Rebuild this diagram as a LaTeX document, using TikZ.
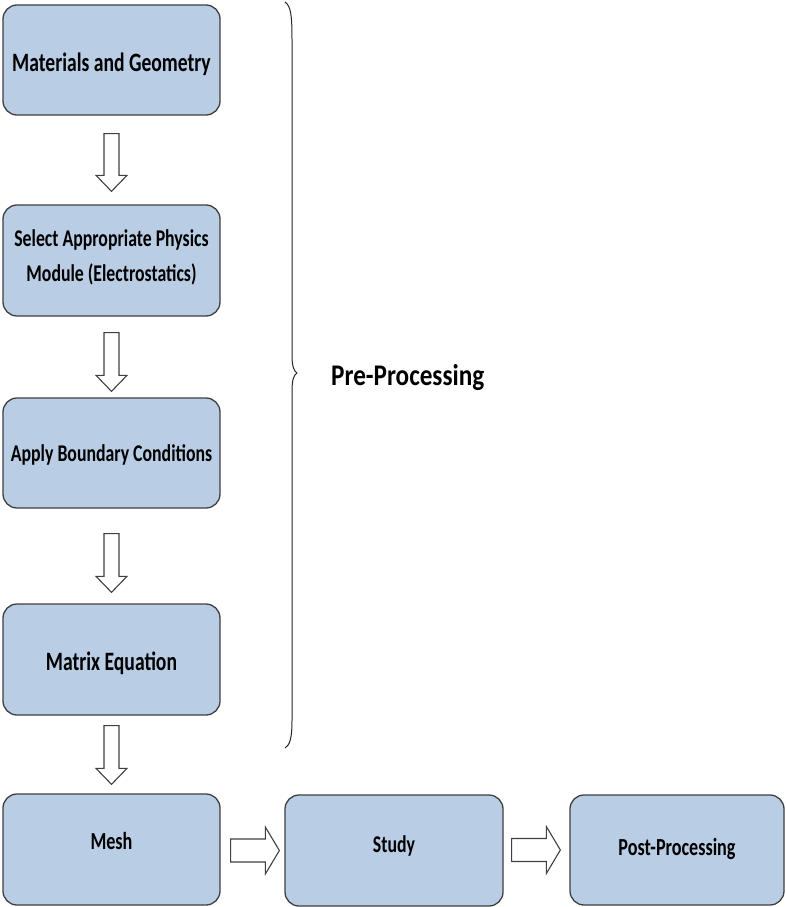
\documentclass[tikz,border=0pt]{standalone}
\usepackage{fontspec}
\setmainfont{Carlito}
\newfontfamily\boxfont[FakeStretch=0.74]{Carlito}
\newfontfamily\prefont[FakeStretch=0.84]{Carlito}
\usetikzlibrary{calc}
\definecolor{boxblue}{HTML}{B9CDE5}
\definecolor{boxline}{HTML}{3F3F3F}
\definecolor{arrline}{HTML}{404040}
\newcommand\vblock[2]{\draw[blockarrow] let \p1=#1, \p2=#2 in
  (\x2-7.5pt,\y1) -- (\x2+7.5pt,\y1) -- (\x2+7.5pt,\y2+16pt) -- (\x2+15.5pt,\y2+16pt)
  -- (\x2,\y2) -- (\x2-15.5pt,\y2+16pt) -- (\x2-7.5pt,\y2+16pt) -- cycle;}
\newcommand\hblock[2]{\draw[blockarrow] let \p1=#1, \p2=#2 in
  (\x1,\y2+11.5pt) -- (\x2-14pt,\y2+11.5pt) -- (\x2-14pt,\y2+23.5pt) -- (\x2,\y2)
  -- (\x2-14pt,\y2-23.5pt) -- (\x2-14pt,\y2-11.5pt) -- (\x1,\y2-11.5pt) -- cycle;}
\newcommand\rs[2]{\raisebox{#1}[0pt][0pt]{#2}}
\begin{document}
\begin{tikzpicture}[x=1pt,y=1pt,
  stepbox/.style={draw=boxline, line width=1.3pt, fill=boxblue, rounded corners=14pt,
    minimum width=217pt, minimum height=110pt, inner sep=0pt, align=center,
    font=\boxfont\bfseries\fontsize{26.5}{36}\selectfont},
  small/.style={font=\boxfont\bfseries\fontsize{24}{35}\selectfont},
  mid/.style={font=\boxfont\bfseries\fontsize{24.5}{36}\selectfont},
  blockarrow/.style={draw=arrline, line width=1.1pt, fill=white, line join=miter},
  bracestyle/.style={draw=black!85, line width=1pt}]
\useasboundingbox (0,0) rectangle (785,-907);
\node[stepbox] (mat) at (111.5,-60) {\rs{-11.5pt}{Materials and Geometry}};
\node[stepbox, small, minimum height=111pt] (sel) at (111.5,-260.5) {\rs{-3pt}{\begin{tabular}{@{}c@{}}Select Appropriate Physics\\Module (Electrostatics)\end{tabular}}};
\node[stepbox, small] (bc) at (111.5,-453) {\rs{-8pt}{Apply Boundary Conditions}};
\node[stepbox, minimum height=111pt] (mx) at (111.5,-659.5) {\rs{-11.3pt}{Matrix Equation}};
\node[stepbox, mid, minimum height=111pt] (mesh) at (111.5,-849.5) {\rs{0.5pt}{Mesh}};
\node[stepbox, small, minimum width=218pt, minimum height=111pt] (study) at (394,-850.5) {\rs{-1.5pt}{Study}};
\node[stepbox, mid, minimum width=214pt] (post) at (677,-850) {\rs{-5.5pt}{Post-Processing}};
\vblock{($(mat.south)+(0,-18)$)}{($(sel.north)+(0,13)$)}
\vblock{($(sel.south)+(0,-16)$)}{($(bc.north)+(0,6)$)}
\vblock{($(bc.south)+(0,-25)$)}{($(mx.north)+(0,11)$)}
\vblock{($(mx.south)+(0,-10)$)}{($(mesh.north)+(0,9)$)}
\hblock{($(mesh.east)+(10,0)$)}{($(study.west)+(-5,0)$)}
\hblock{($(study.east)+(8,0)$)}{($(post.west)+(-9,0)$)}
\draw[bracestyle] (285,-2) .. controls (291,-6) and (292,-16) .. (292,-40) -- (292,-355)
  .. controls (292,-367) and (294,-371) .. (297,-373)
  .. controls (294,-375) and (292,-379) .. (292,-391) -- (292,-720)
  .. controls (292,-738) and (290,-745) .. (285,-748);
\node[anchor=base west, inner sep=0pt, font=\prefont\bfseries\fontsize{30}{36}\selectfont] (pre) at (331,-385) {Pre-Processing};
\end{tikzpicture}
\end{document}
